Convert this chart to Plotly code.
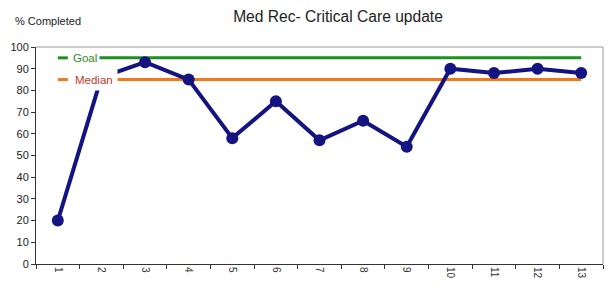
import plotly.graph_objects as go

categories = [str(i) for i in range(1, 14)]
completed = [20, 86, 93, 85, 58, 75, 57, 66, 54, 90, 88, 90, 88]
goal = [95] * 13
median = [85] * 13

GOAL_C = "#1f8f1f"
MED_C = "#f07a1a"

fig = go.Figure()
fig.add_trace(go.Scatter(x=categories, y=goal, mode="lines", name="Goal",
                         line=dict(color=GOAL_C, width=3), showlegend=False))
fig.add_trace(go.Scatter(x=categories, y=median, mode="lines", name="Median",
                         line=dict(color=MED_C, width=3), showlegend=False))
fig.add_trace(go.Scatter(x=categories, y=completed, mode="lines+markers", showlegend=False,
                         line=dict(color="#141480", width=4),
                         marker=dict(color="#141480", size=12)))

shapes = [
    dict(type="line", xref="paper", yref="paper", x0=0, x1=1, y0=1, y1=1, line=dict(color="#999", width=1)),
    dict(type="line", xref="paper", yref="paper", x0=1, x1=1, y0=0, y1=1, line=dict(color="#999", width=1)),
]
annotations = [dict(text="% Completed", xref="paper", yref="paper", x=-0.041, y=1.118,
                    xanchor="left", yanchor="middle", showarrow=False, font=dict(size=11, color="#222"))]
for val, color, label, tcolor, pad in [(goal[0], GOAL_C, "Goal", "#2e8b2e", 2),
                                       (median[0], MED_C, "Median", "#c0392b", 4)]:
    shapes.append(dict(type="rect", xref="x", yref="y", x0=-0.1, x1=0.32, y0=val - 3.5, y1=val + 3.5,
                       fillcolor="white", line=dict(width=0), layer="above"))
    shapes.append(dict(type="line", xref="x", yref="y", x0=0, x1=0.23, y0=val, y1=val,
                       line=dict(color=color, width=3), layer="above"))
    annotations.append(dict(text=label, xref="x", yref="y", x=0.27, y=val, xanchor="left", yanchor="middle",
                            showarrow=False, bgcolor="white", borderpad=pad,
                            font=dict(size=11.5, color=tcolor)))

fig.update_layout(
    width=609, height=293,
    margin=dict(l=36, r=6, t=47, b=29),
    paper_bgcolor="white", plot_bgcolor="white",
    font=dict(family="Liberation Sans, Arial, sans-serif", color="#222", size=11),
    title=dict(text="Med Rec- Critical Care update", x=0.555, xanchor="center", y=0.942, yanchor="middle",
               font=dict(size=15.6, color="#222")),
    xaxis=dict(type="category", range=[-0.5, 12.5], tickangle=90, tickson="boundaries",
               ticks="outside", ticklen=4, tickcolor="#333", showline=True, linecolor="#333",
               linewidth=1, showgrid=False, tickfont=dict(size=10, color="#333")),
    yaxis=dict(range=[0, 100], dtick=10, ticks="outside", ticklen=4, tickcolor="#333",
               showline=True, linecolor="#333", linewidth=1, showgrid=False, zeroline=False,
               tickfont=dict(size=11, color="#222")),
    shapes=shapes,
    annotations=annotations,
)

fig.write_html("out.html", config={"displayModeBar": False},
               post_script="document.body.style.margin='0';")
